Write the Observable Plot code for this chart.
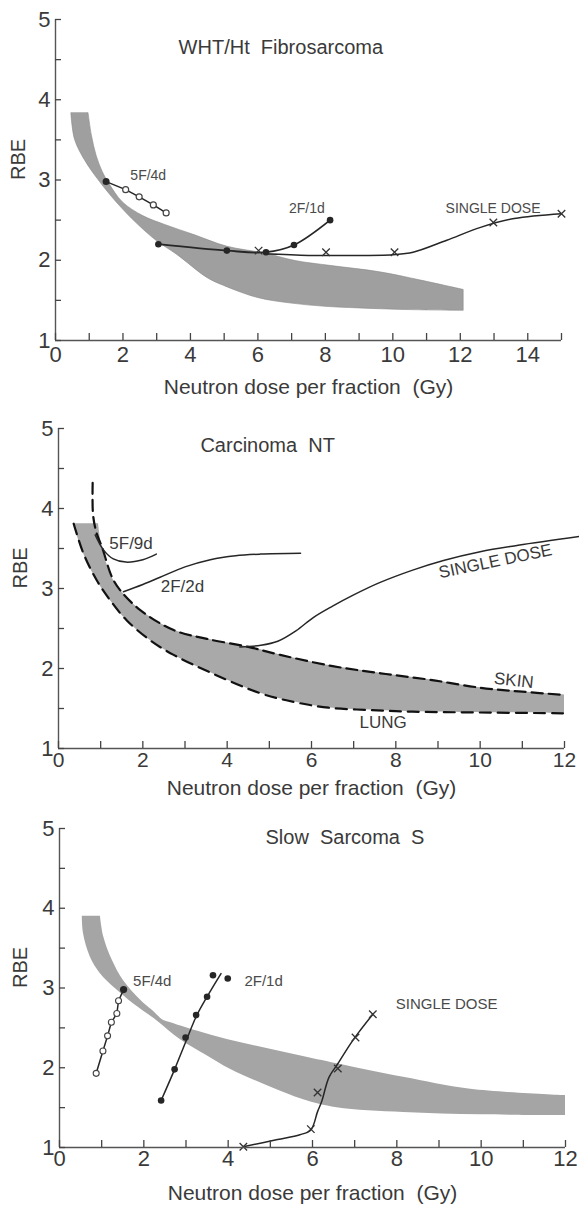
<!DOCTYPE html>
<html><head><meta charset="utf-8">
<script src="https://cdn.jsdelivr.net/npm/d3@7"></script>
<script src="https://cdn.jsdelivr.net/npm/@observablehq/plot@0.6"></script>
<style>
html,body{margin:0;padding:0;background:#fff;}
#chart{width:579px;}
#chart svg{display:block;}
g[aria-label="annot"] text{letter-spacing:var(--ls,0px);}
g[aria-label="title"] text{word-spacing:2px;}
g[aria-label="axis-title"] text{word-spacing:3px;}
</style></head><body><div id="chart"></div>
<script>
// ---------- shared ----------
const xAxisTitle = "Neutron dose per fraction  (Gy)";
const yAxisTitle = "RBE";
const yTickValues = [1, 1.5, 2, 2.5, 3, 3.5, 4, 4.5, 5];
const yTickLabels = [1, 2, 3, 4, 5];

// ---------- Panel 1: WHT/Ht Fibrosarcoma ----------
const p1Title = "WHT/Ht  Fibrosarcoma";
const p1XTicks = [0,1,2,3,4,5,6,7,8,9,10,11,12,13,14,15];
const p1XTickLabels = [0,2,4,6,8,10,12,14];
const p1BandLowerX = [0.47,0.58,0.88,1.22,1.67,2.26,3.0,3.6,4.5,5.0,6.0,7.0,8.0,9.0,10.4,12.1];
const p1BandLowerY = [3.83,3.50,3.24,3.03,2.79,2.52,2.24,2.07,1.78,1.68,1.53,1.46,1.42,1.40,1.38,1.37];
const p1BandUpperX = [0.98,1.08,1.22,1.40,1.60,2.00,2.60,3.25,4.14,5.08,6.26,7.12,8.14,9.62,10.8,12.1];
const p1BandUpperY = [3.83,3.55,3.30,3.10,2.95,2.72,2.55,2.44,2.31,2.17,2.08,1.99,1.93,1.85,1.75,1.63];
const p1F5X = [1.5,2.08,2.48,2.9,3.28];
const p1F5Y = [2.98,2.88,2.79,2.69,2.59];
const p1F2X = [3.05,5.08,6.24,7.07,8.14];
const p1F2Y = [2.2,2.12,2.1,2.19,2.5];
const p1SingleLineX = [6.2,7.5,8.6,10.0,10.6,11.6,12.6,13.6,15];
const p1SingleLineY = [2.08,2.06,2.06,2.07,2.1,2.25,2.41,2.52,2.58];
const p1SingleX = [6.02,8.02,10.05,12.98,15];
const p1SingleY = [2.12,2.1,2.1,2.47,2.58];
const p1LabelText = ["5F/4d","2F/1d","SINGLE DOSE"];
const p1LabelX = [2.75,7.45,12.97];
const p1LabelY = [3.05,2.64,2.65];

// ---------- Panel 2: Carcinoma NT ----------
const p2Title = "Carcinoma  NT";
const p2XTicks = [0,1,2,3,4,5,6,7,8,9,10,11,12];
const p2XTickLabels = [0,2,4,6,8,10,12];
const p2BandLowerX = [0.36,0.59,0.91,1.23,1.62,2.18,2.73,3.6,4.79,5.6,6.4,7.4,8.4,10,12];
const p2BandLowerY = [3.81,3.44,3.10,2.85,2.60,2.35,2.17,1.95,1.69,1.58,1.51,1.48,1.46,1.45,1.44];
const p2BandUpperX = [0.95,1.03,1.27,1.46,1.94,2.73,3.52,4.5,5.26,6.5,7.64,8.8,10,11,12];
const p2BandUpperY = [3.81,3.52,3.14,2.98,2.73,2.48,2.37,2.27,2.17,2.03,1.94,1.86,1.76,1.71,1.67];
const p2SkinX = [0.81,0.82,0.9,1.03,1.27,1.46,1.94,2.73,3.52,4.5,5.26,6.5,7.64,8.8,10,11,12];
const p2SkinY = [4.32,3.92,3.7,3.52,3.14,2.98,2.73,2.48,2.37,2.27,2.17,2.03,1.94,1.86,1.76,1.71,1.67];
const p2F5X = [0.87,1.07,1.3,1.6,2.0,2.32];
const p2F5Y = [3.67,3.48,3.37,3.33,3.36,3.43];
const p2F2X = [1.54,2.0,2.41,3.0,3.6,4.2,4.79,5.74];
const p2F2Y = [2.96,3.05,3.14,3.27,3.36,3.41,3.43,3.44];
const p2SingleX = [4.3,4.8,5.2,5.63,6.05,6.5,7.0,7.6,8.4,9.13,10.0,10.9,12.36];
const p2SingleY = [2.27,2.29,2.34,2.47,2.64,2.78,2.92,3.07,3.23,3.35,3.46,3.54,3.65];
const p2LabelText = ["5F/9d","2F/2d","SINGLE DOSE","SKIN","LUNG"];
const p2LabelX = [1.72,2.94,10.36,10.8,7.7];
const p2LabelY = [3.56,3.02,3.34,1.85,1.33];
const p2LabelAngle = [0,0,-11.7,6,0];

// ---------- Panel 3: Slow Sarcoma S ----------
const p3Title = "Slow  Sarcoma  S";
const p3XTicks = [0,1,2,3,4,5,6,7,8,9,10,11,12];
const p3XTickLabels = [0,2,4,6,8,10,12];
const p3BandLowerX = [0.54,0.57,0.73,0.97,1.33,1.76,2.31,2.87,3.5,4.05,5.0,5.79,6.58,8.16,10,12];
const p3BandLowerY = [3.9,3.68,3.39,3.18,2.99,2.80,2.59,2.35,2.15,1.98,1.76,1.6,1.50,1.44,1.41,1.40];
const p3BandUpperX = [0.97,1.05,1.25,1.52,1.92,2.2,2.45,2.6,3.26,4.0,4.84,5.7,6.58,8.16,9.75,12];
const p3BandUpperY = [3.9,3.64,3.35,3.09,2.85,2.72,2.6,2.57,2.46,2.35,2.25,2.15,2.05,1.88,1.73,1.65];
const p3F5X = [0.87,1.03,1.14,1.23,1.36,1.40,1.52];
const p3F5Y = [1.93,2.21,2.40,2.57,2.68,2.84,2.98];
const p3F2LineX = [2.41,2.73,2.99,3.24,3.5,3.83];
const p3F2LineY = [1.59,1.98,2.32,2.64,2.89,3.18];
const p3F2X = [2.41,2.73,2.99,3.24,3.5,3.64,3.99];
const p3F2Y = [1.59,1.98,2.38,2.66,2.89,3.16,3.12];
const p3SingleLineX = [4.36,5.17,5.7,5.96,6.12,6.22,6.39,6.6,6.9,7.09,7.43];
const p3SingleLineY = [1.01,1.1,1.16,1.22,1.45,1.58,1.88,2.05,2.3,2.44,2.67];
const p3SingleX = [4.36,5.96,6.12,6.6,7.02,7.43];
const p3SingleY = [1.01,1.23,1.69,1.99,2.38,2.67];
const p3LabelText = ["5F/4d","2F/1d","SINGLE DOSE"];
const p3LabelX = [2.2,4.84,9.18];
const p3LabelY = [3.09,3.09,2.80];

// ---------- helpers ----------
const pts = (xs, ys) => xs.map((x, i) => ({x, y: ys[i]}));
const band = (lx, ly, ux, uy) => lx.map((x, i) => ({x1: x, y1: ly[i], x2: ux[i], y2: uy[i]}));
const INK = "#262626";
const TXT = "#3a3a3a";
const SANS = "'Liberation Sans', Arial, Helvetica, sans-serif";

function frameMarks(o) {
  const fh = o.height - o.mt - o.mb;
  const fw = 579 - o.ml - o.mr;
  const tickLenY = 7 * 4 / fh;        // 7 px expressed in RBE units
  const tickLenX = 6 * o.xmax / fw;   // 6 px expressed in dose units
  return [
    Plot.ruleX([0], {stroke: "#555", strokeWidth: 1.4}),
    Plot.ruleY([1], {stroke: "#555", strokeWidth: 1.4}),
    Plot.ruleX(o.xTicks, {x: d => d, y1: 1, y2: 1 + tickLenY, stroke: "#444", strokeWidth: 1.3}),
    Plot.ruleY(yTickValues, {y: d => d, x1: 0, x2: tickLenX, stroke: "#444", strokeWidth: 1.3}),
    Plot.axisX(o.xTickLabels, {tickSize: 0, tickPadding: o.xPad, tickFormat: d => String(d), fontSize: o.xFont, fill: TXT, label: null}),
    Plot.axisY(yTickLabels, {tickSize: 0, tickPadding: 5, tickFormat: d => String(d), fontSize: 22, fill: TXT, label: null}),
    Plot.text([xAxisTitle], {frameAnchor: "bottom", dy: o.xTitleDy, fontSize: 21, fill: TXT, fontFamily: SANS, ariaLabel: "axis-title", lineAnchor: "middle"}),
    Plot.text([yAxisTitle], {frameAnchor: "left", dx: o.yTitleDx, rotate: -90, fontSize: 20, fill: TXT, fontFamily: SANS, lineAnchor: "middle"})
  ];
}

function makePanel(o) {
  return Plot.plot({
    width: 579, height: o.height,
    marginTop: o.mt, marginBottom: o.mb, marginLeft: o.ml, marginRight: o.mr,
    x: {domain: [0, o.xmax]}, y: {domain: [1, 5]},
    style: {fontFamily: SANS, background: "white", color: TXT, overflow: "visible"},
    marks: [...o.marks, ...frameMarks(o)]
  });
}

const chart = document.getElementById("chart");

// Panel 1
chart.append(makePanel({
  height: 402, mt: 19, mb: 62, ml: 55, mr: 18, xmax: 15,
  xTicks: p1XTicks, xTickLabels: p1XTickLabels, xPad: 6, xFont: 22, xTitleDy: 47, yTitleDx: -37,
  marks: [
    Plot.area(band(p1BandLowerX, p1BandLowerY, p1BandUpperX, p1BandUpperY), {x1: "x1", y1: "y1", x2: "x2", y2: "y2", fill: "#9f9f9f", stroke: "#8a8a8a", strokeWidth: 0.6, curve: "catmull-rom"}),
    Plot.line(pts(p1F5X, p1F5Y), {x: "x", y: "y", stroke: INK, strokeWidth: 1.5}),
    Plot.line(pts(p1F2X, p1F2Y), {x: "x", y: "y", stroke: INK, strokeWidth: 1.8, curve: "catmull-rom"}),
    Plot.line(pts(p1SingleLineX, p1SingleLineY), {x: "x", y: "y", stroke: INK, strokeWidth: 1.5, curve: "catmull-rom"}),
    Plot.dot(pts(p1F5X, p1F5Y).slice(1), {x: "x", y: "y", r: 3, stroke: "#444", fill: "white", strokeWidth: 1.2}),
    Plot.dot(pts(p1F5X, p1F5Y).slice(0, 1), {x: "x", y: "y", r: 3.5, fill: INK}),
    Plot.dot(pts(p1F2X, p1F2Y), {x: "x", y: "y", r: 3.3, fill: INK}),
    Plot.dot(pts(p1SingleX, p1SingleY), {x: "x", y: "y", r: 3.5, symbol: "times", stroke: "#333", strokeWidth: 1.3}),
    Plot.text(p1LabelText, {x: p1LabelX, y: p1LabelY, text: d => d, fontSize: 14, fill: "#4a4a4a", ariaLabel: "annot"}),
    Plot.text([p1Title], {x: [6.68], y: [4.65], fontSize: 20, fill: TXT, ariaLabel: "title"})
  ]
}));

// Panel 2
chart.append(makePanel({
  height: 402, mt: 26, mb: 56, ml: 58, mr: 15, xmax: 12,
  xTicks: p2XTicks, xTickLabels: p2XTickLabels, xPad: 4, xFont: 21, xTitleDy: 40, yTitleDx: -38,
  marks: [
    Plot.area(band(p2BandLowerX, p2BandLowerY, p2BandUpperX, p2BandUpperY), {x1: "x1", y1: "y1", x2: "x2", y2: "y2", fill: "#a9a9a9", curve: "catmull-rom"}),
    Plot.line(pts(p2SkinX, p2SkinY), {x: "x", y: "y", stroke: "#111", strokeWidth: 2.2, strokeDasharray: "11,6", curve: "catmull-rom"}),
    Plot.line(pts(p2BandLowerX, p2BandLowerY), {x: "x", y: "y", stroke: "#111", strokeWidth: 2.2, strokeDasharray: "11,7", curve: "catmull-rom"}),
    Plot.line(pts(p2F5X, p2F5Y), {x: "x", y: "y", stroke: INK, strokeWidth: 1.5, curve: "catmull-rom"}),
    Plot.line(pts(p2F2X, p2F2Y), {x: "x", y: "y", stroke: INK, strokeWidth: 1.5, curve: "catmull-rom"}),
    Plot.line(pts(p2SingleX, p2SingleY), {x: "x", y: "y", stroke: INK, strokeWidth: 1.5, curve: "catmull-rom"}),
    Plot.text(p2LabelText, {x: p2LabelX, y: p2LabelY, rotate: p2LabelAngle, text: d => d, fontSize: 17, fill: "#3a3a3a", ariaLabel: "annot"}),
    Plot.text([p2Title], {x: [4.96], y: [4.79], fontSize: 20, fill: TXT, ariaLabel: "title"})
  ]
}));

// Panel 3
chart.append(makePanel({
  height: 401, mt: 24, mb: 58, ml: 59, mr: 14, xmax: 12,
  xTicks: p3XTicks, xTickLabels: p3XTickLabels, xPad: 3, xFont: 22, xTitleDy: 46, yTitleDx: -39,
  marks: [
    Plot.area(band(p3BandLowerX, p3BandLowerY, p3BandUpperX, p3BandUpperY), {x1: "x1", y1: "y1", x2: "x2", y2: "y2", fill: "#a5a5a5", curve: "catmull-rom"}),
    Plot.line(pts(p3F5X, p3F5Y), {x: "x", y: "y", stroke: INK, strokeWidth: 1.5}),
    Plot.line(pts(p3F2LineX, p3F2LineY), {x: "x", y: "y", stroke: INK, strokeWidth: 1.5, curve: "catmull-rom"}),
    Plot.line(pts(p3SingleLineX, p3SingleLineY), {x: "x", y: "y", stroke: INK, strokeWidth: 1.5, curve: "catmull-rom"}),
    Plot.dot(pts(p3F5X, p3F5Y).slice(0, -1), {x: "x", y: "y", r: 3, stroke: "#444", fill: "white", strokeWidth: 1.1}),
    Plot.dot(pts(p3F5X, p3F5Y).slice(-1), {x: "x", y: "y", r: 3.6, fill: INK}),
    Plot.dot(pts(p3F2X, p3F2Y), {x: "x", y: "y", r: 3.3, fill: INK}),
    Plot.dot(pts(p3SingleX, p3SingleY), {x: "x", y: "y", r: 3.5, symbol: "times", stroke: "#333", strokeWidth: 1.3}),
    Plot.text(p3LabelText, {x: p3LabelX, y: p3LabelY, text: d => d, fontSize: 15, fill: "#4a4a4a", ariaLabel: "annot"}),
    Plot.text([p3Title], {x: [6.77], y: [4.89], fontSize: 20, fill: TXT, ariaLabel: "title"})
  ]
}));

// letter-spacing for annotations in panels 2 and 3
const svgs = chart.querySelectorAll("svg");
svgs[1].style.setProperty("--ls", "1.6px");
svgs[2].style.setProperty("--ls", "1.5px");
</script>
</body></html>
